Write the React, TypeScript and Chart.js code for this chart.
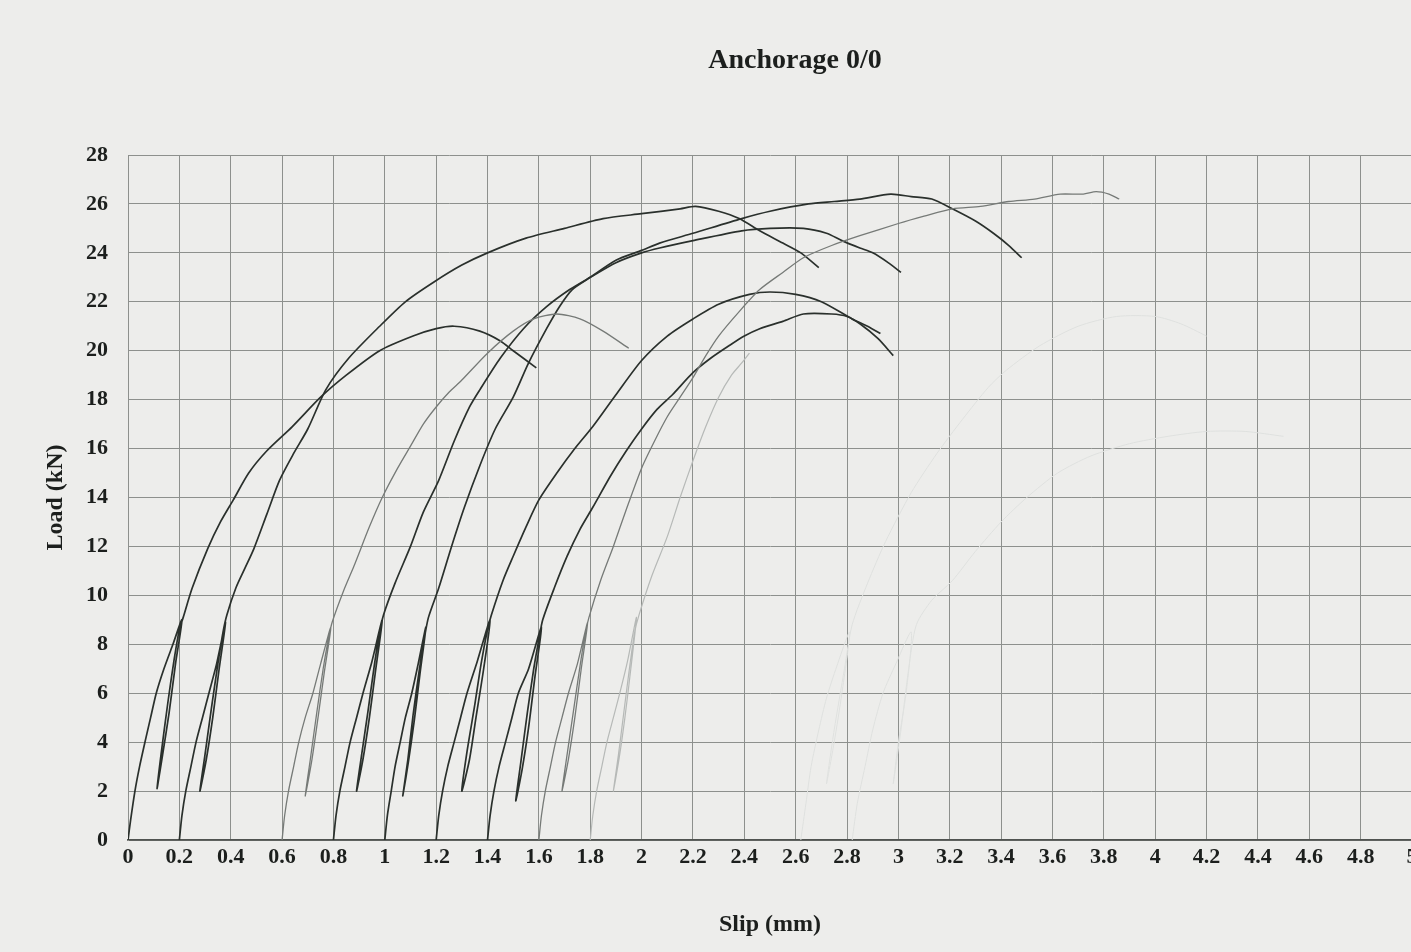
import { useEffect, useRef } from "react";
import { Chart, registerables } from "chart.js";

Chart.register(...registerables);

const chartTitle = "Anchorage 0/0";
const xTitle = "Slip (mm)";
const yTitle = "Load (kN)";

const slipTicks = [0, 0.2, 0.4, 0.6, 0.8, 1, 1.2, 1.4, 1.6, 1.8, 2, 2.2, 2.4, 2.6, 2.8, 3, 3.2, 3.4, 3.6, 3.8, 4, 4.2, 4.4, 4.6, 4.8, 5];
const loadTicks = [0, 2, 4, 6, 8, 10, 12, 14, 16, 18, 20, 22, 24, 26, 28];

// Each test: first loading to ~9 kN, unload/reload cycle, then loading to failure.
const slipA = [0, 0.01, 0.027, 0.045, 0.066, 0.088, 0.11, 0.14, 0.175, 0.21, 0.185, 0.16, 0.135, 0.113, 0.13, 0.155, 0.18, 0.2, 0.215, 0.25, 0.31, 0.36, 0.41, 0.47, 0.54, 0.64, 0.75, 0.85, 0.98, 1.11, 1.2, 1.27, 1.37, 1.45, 1.5, 1.59];
const loadA = [0, 0.8, 2, 3, 4, 5, 6, 7, 8, 9, 7.2, 5.2, 3.5, 2.1, 3.6, 5.6, 7.4, 8.6, 9.1, 10.3, 11.9, 13, 13.9, 15, 15.9, 16.9, 18.1, 19.0, 20.0, 20.6, 20.9, 21.0, 20.8, 20.4, 20.0, 19.3];

const slipB = [0.2, 0.21, 0.225, 0.245, 0.265, 0.29, 0.315, 0.345, 0.38, 0.355, 0.33, 0.305, 0.28, 0.3, 0.325, 0.35, 0.37, 0.385, 0.42, 0.455, 0.49, 0.54, 0.59, 0.645, 0.7, 0.77, 0.86, 0.98, 1.08, 1.19, 1.3, 1.4, 1.55, 1.7, 1.85, 2.0, 2.15, 2.21, 2.3, 2.38, 2.46, 2.55, 2.62, 2.69];
const loadB = [0, 1, 2, 3, 4, 5, 6, 7.2, 8.9, 7, 5, 3.3, 2.0, 3.5, 5.4, 7.2, 8.5, 9.2, 10.3, 11.1, 11.9, 13.3, 14.7, 15.8, 16.8, 18.4, 19.7, 21.0, 22.0, 22.8, 23.5, 24.0, 24.6, 25.0, 25.4, 25.6, 25.8, 25.9, 25.7, 25.4, 24.9, 24.4, 24.0, 23.4];

const slipC = [0.6, 0.61, 0.625, 0.645, 0.665, 0.69, 0.72, 0.75, 0.79, 0.765, 0.74, 0.715, 0.69, 0.71, 0.735, 0.76, 0.78, 0.795, 0.84, 0.88, 0.94, 0.99, 1.05, 1.1, 1.15, 1.2, 1.25, 1.3, 1.4, 1.5, 1.58, 1.67, 1.76, 1.85, 1.95];
const loadC = [0, 1, 2, 3, 4, 5, 6, 7.2, 8.7, 6.9, 5, 3.2, 1.8, 3.3, 5.2, 7, 8.2, 8.9, 10.2, 11.2, 12.8, 14.0, 15.2, 16.1, 17.0, 17.7, 18.3, 18.8, 19.9, 20.8, 21.3, 21.5, 21.3, 20.8, 20.1];

const slipD = [0.8, 0.81, 0.825, 0.845, 0.865, 0.89, 0.915, 0.95, 0.99, 0.965, 0.94, 0.915, 0.89, 0.91, 0.935, 0.96, 0.98, 0.995, 1.04, 1.1, 1.15, 1.21, 1.27, 1.33, 1.37, 1.45, 1.54, 1.63, 1.72, 1.8, 1.9, 2.0, 2.07, 2.2, 2.39, 2.5, 2.63, 2.72, 2.78, 2.85, 2.9, 2.96, 3.01];
const loadD = [0, 1, 2, 3, 4, 5, 6, 7.3, 9.0, 7, 5, 3.3, 2.0, 3.5, 5.3, 7.2, 8.5, 9.2, 10.5, 12.0, 13.4, 14.7, 16.3, 17.7, 18.4, 19.7, 20.9, 21.8, 22.5, 23.0, 23.6, 24.0, 24.2, 24.5, 24.9, 25.0, 25.0, 24.8, 24.5, 24.2, 24.0, 23.6, 23.2];

const slipE = [1.0, 1.01, 1.025, 1.04, 1.06, 1.08, 1.105, 1.13, 1.16, 1.137, 1.115, 1.092, 1.07, 1.09, 1.11, 1.135, 1.155, 1.17, 1.21, 1.26, 1.31, 1.37, 1.43, 1.5, 1.56, 1.63, 1.68, 1.73, 1.8, 1.9, 2.0, 2.07, 2.2, 2.39, 2.5, 2.65, 2.75, 2.85, 2.97, 3.05, 3.13, 3.21, 3.3, 3.37, 3.43, 3.48];
const loadE = [0, 1, 2, 3, 4, 5, 6, 7.2, 8.7, 6.8, 4.9, 3.2, 1.8, 3.3, 5.1, 7, 8.3, 9.1, 10.3, 12.0, 13.6, 15.3, 16.8, 18.1, 19.5, 20.9, 21.8, 22.5, 23.0, 23.7, 24.1, 24.4, 24.8, 25.4, 25.7, 26.0, 26.1, 26.2, 26.4, 26.3, 26.2, 25.8, 25.3, 24.8, 24.3, 23.8];

const slipF = [1.2, 1.21, 1.225, 1.245, 1.27, 1.295, 1.32, 1.36, 1.41, 1.385, 1.355, 1.33, 1.3, 1.32, 1.35, 1.375, 1.4, 1.415, 1.46, 1.5, 1.55, 1.6, 1.67, 1.74, 1.81, 1.9, 2.0, 2.1, 2.2, 2.3, 2.42, 2.5, 2.6, 2.7, 2.82, 2.88, 2.93];
const loadF = [0, 1, 2, 3, 4, 5, 6, 7.3, 9.0, 7, 5, 3.3, 2.0, 3.6, 5.5, 7.2, 8.6, 9.2, 10.6, 11.6, 12.8, 13.9, 15.0, 16.0, 16.9, 18.2, 19.6, 20.6, 21.3, 21.9, 22.3, 22.4, 22.3, 22.0, 21.3, 21.0, 20.7];

const slipG = [1.4, 1.41, 1.425, 1.445, 1.47, 1.495, 1.52, 1.56, 1.61, 1.585, 1.56, 1.535, 1.51, 1.53, 1.555, 1.58, 1.6, 1.615, 1.66, 1.71, 1.76, 1.81, 1.88, 1.94, 2.0, 2.06, 2.12, 2.2, 2.27, 2.34, 2.4, 2.46, 2.55, 2.63, 2.74, 2.8, 2.85, 2.92, 2.98];
const loadG = [0, 1, 2, 3, 4, 5, 6, 7, 8.7, 6.7, 4.6, 2.9, 1.6, 3.2, 5.2, 7, 8.2, 9.0, 10.3, 11.6, 12.7, 13.6, 14.9, 15.9, 16.8, 17.6, 18.2, 19.1, 19.7, 20.2, 20.6, 20.9, 21.2, 21.5, 21.5, 21.4, 21.1, 20.5, 19.8];

const slipH = [1.6, 1.61, 1.625, 1.645, 1.665, 1.69, 1.715, 1.75, 1.79, 1.765, 1.74, 1.715, 1.69, 1.71, 1.735, 1.76, 1.78, 1.795, 1.84, 1.89, 1.94, 2.0, 2.05, 2.1, 2.15, 2.2, 2.25, 2.3, 2.38, 2.46, 2.55, 2.63, 2.74, 2.85, 3.0, 3.1, 3.21, 3.32, 3.43, 3.53, 3.63, 3.72, 3.77, 3.82, 3.86];
const loadH = [0, 1, 2, 3, 4, 5, 6, 7.2, 8.9, 7, 5, 3.3, 2.0, 3.5, 5.3, 7.1, 8.4, 9.1, 10.6, 12.0, 13.5, 15.2, 16.3, 17.3, 18.1, 18.9, 19.8, 20.6, 21.6, 22.5, 23.2, 23.8, 24.3, 24.7, 25.2, 25.5, 25.8, 25.9, 26.1, 26.2, 26.4, 26.4, 26.5, 26.4, 26.2];

const slipI = [1.8, 1.81, 1.825, 1.845, 1.865, 1.89, 1.915, 1.945, 1.98, 1.958, 1.935, 1.912, 1.89, 1.91, 1.933, 1.955, 1.973, 1.99, 2.04, 2.1, 2.15, 2.2, 2.25, 2.3, 2.35, 2.39, 2.42];
const loadI = [0, 1, 2, 3, 4, 5, 6, 7.3, 9.1, 7, 5, 3.3, 2.0, 3.5, 5.4, 7.2, 8.5, 9.2, 10.8, 12.4, 14.0, 15.5, 16.9, 18.1, 19.0, 19.5, 19.9];

const slipJ = [2.62, 2.64, 2.66, 2.69, 2.72, 2.76, 2.81, 2.78, 2.75, 2.72, 2.75, 2.79, 2.82, 2.88, 2.95, 3.05, 3.15, 3.25, 3.35, 3.42, 3.55, 3.7, 3.85, 4.0, 4.1, 4.2];
const loadJ = [0, 1.5, 3, 4.5, 5.8, 7.1, 8.5, 6, 4, 2.3, 4.5, 7, 8.8, 10.5, 12.2, 14.2, 15.8, 17.2, 18.5, 19.2, 20.2, 21.0, 21.4, 21.4, 21.1, 20.6];

const slipK = [2.82, 2.84, 2.87, 2.9, 2.94, 2.99, 3.05, 3.03, 3.0, 2.98, 3.01, 3.04, 3.07, 3.13, 3.21, 3.3, 3.4, 3.5, 3.62, 3.75, 3.9, 4.05, 4.2, 4.35, 4.5];
const loadK = [0, 1.5, 3, 4.5, 6, 7.2, 8.5, 6, 4, 2.3, 4.5, 7, 8.8, 9.8, 10.6, 11.8, 13.0, 14.0, 15.0, 15.7, 16.2, 16.5, 16.7, 16.7, 16.5];

const INK = "#2a302c";
const GREY = "#767a77";
const LIGHT = "#b6b9b7";
const FAINT = "#dfe1df";

const series = [
  { slip: slipJ, load: loadJ, color: FAINT, width: 1 },
  { slip: slipK, load: loadK, color: FAINT, width: 1 },
  { slip: slipI, load: loadI, color: LIGHT, width: 1.2 },
  { slip: slipH, load: loadH, color: GREY, width: 1.3 },
  { slip: slipC, load: loadC, color: GREY, width: 1.3 },
  { slip: slipA, load: loadA, color: INK, width: 1.7 },
  { slip: slipB, load: loadB, color: INK, width: 1.7 },
  { slip: slipD, load: loadD, color: INK, width: 1.7 },
  { slip: slipE, load: loadE, color: INK, width: 1.7 },
  { slip: slipF, load: loadF, color: INK, width: 1.7 },
  { slip: slipG, load: loadG, color: INK, width: 1.7 },
];

const SERIF = "'Liberation Serif', 'Times New Roman', serif";
const TEXT = "#1c1f1d";

export default function App() {
  const canvasRef = useRef<HTMLCanvasElement>(null);

  useEffect(() => {
    const canvas = canvasRef.current;
    if (!canvas) return;

    const heading = {
      id: "heading",
      afterDraw(chart: Chart) {
        const ctx = chart.ctx;
        ctx.save();
        ctx.font = `bold 28px ${SERIF}`;
        ctx.fillStyle = TEXT;
        ctx.textAlign = "center";
        ctx.textBaseline = "middle";
        ctx.fillText(chartTitle, 795, 61);
        ctx.restore();
      },
    };

    const chart = new Chart(canvas, {
      type: "line",
      data: {
        datasets: series.map((s) => ({
          data: s.slip.map((x, i) => ({ x, y: s.load[i] })),
          borderColor: s.color,
          borderWidth: s.width,
          pointRadius: 0,
          tension: 0.25,
          fill: false,
        })),
      },
      plugins: [heading],
      options: {
        responsive: false,
        devicePixelRatio: 1,
        animation: false,
        layout: { padding: { top: 155, right: 28, bottom: 0, left: 0 } },
        plugins: {
          legend: { display: false },
          tooltip: { enabled: false },
          title: { display: false },
        },
        scales: {
          x: {
            type: "linear",
            min: 0,
            max: 5,
            afterBuildTicks: (scale: any) => {
              scale.ticks = slipTicks.map((value) => ({ value }));
            },
            afterFit: (scale: any) => {
              scale.height = 112;
            },
            ticks: {
              autoSkip: false,
              maxRotation: 0,
              padding: 4,
              color: TEXT,
              font: { family: SERIF, size: 22, weight: "bold" },
              callback: (v: any) => String(v),
            },
            grid: { color: "#8d908d", lineWidth: 1, drawTicks: false },
            border: { color: "#505350", width: 1.8 },
            title: {
              display: true,
              text: xTitle,
              color: TEXT,
              font: { family: SERIF, size: 24, weight: "bold" },
              padding: { top: 0, bottom: 13 },
            },
          },
          y: {
            type: "linear",
            min: 0,
            max: 28,
            afterBuildTicks: (scale: any) => {
              scale.ticks = loadTicks.map((value) => ({ value }));
            },
            afterFit: (scale: any) => {
              scale.width = 128;
            },
            ticks: {
              autoSkip: false,
              padding: 20,
              color: TEXT,
              font: { family: SERIF, size: 22, weight: "bold" },
              callback: (v: any) => String(v),
            },
            grid: { color: "#8d908d", lineWidth: 1, drawTicks: false },
            border: { color: "#8d908d", width: 1 },
            title: {
              display: true,
              text: yTitle,
              color: TEXT,
              font: { family: SERIF, size: 24, weight: "bold" },
              padding: { top: 41, bottom: 0 },
            },
          },
        },
      },
    });

    return () => chart.destroy();
  }, []);

  return (
    <div
      style={{
        position: "fixed",
        left: 0,
        top: 0,
        width: 1411,
        height: 952,
        overflow: "hidden",
        background: "#ededeb",
      }}
    >
      <canvas ref={canvasRef} width={1440} height={952} style={{ display: "block", width: 1440, height: 952 }} />
    </div>
  );
}
